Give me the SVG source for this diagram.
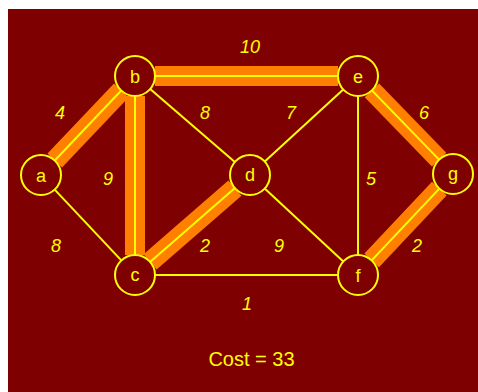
<svg xmlns="http://www.w3.org/2000/svg" width="478" height="392" viewBox="0 0 478 392">
<style>
.hl{stroke:#ff8000;stroke-width:20;fill:none;stroke-linecap:butt}
.ln{stroke:#ffff00;stroke-width:2;fill:none;stroke-linecap:butt}
.nd{fill:none;stroke:#ffff00;stroke-width:2}
.nl{font-family:"Liberation Sans",Arial,sans-serif;font-size:18px;fill:#ffff00;text-anchor:middle}
.wl{font-family:"Liberation Sans",Arial,sans-serif;font-size:18px;font-style:italic;fill:#ffff00;text-anchor:middle}
.cost{font-family:"Liberation Sans",Arial,sans-serif;font-size:20px;fill:#ffff00;text-anchor:middle}
</style>
<rect x="0" y="0" width="478" height="392" fill="#ffffff"/>
<rect x="8" y="9" width="470" height="383" fill="#7f0000"/>
<g id="connectors">
  <g id="mst-highlight">
    <line class="hl" x1="54.77" y1="160.50" x2="121.23" y2="90.50"/>
    <line class="hl" x1="155" y1="76" x2="338" y2="76"/>
    <line class="hl" x1="135" y1="96" x2="135" y2="255"/>
    <line class="hl" x1="150.09" y1="261.88" x2="234.91" y2="188.12"/>
    <line class="hl" x1="371.92" y1="90.36" x2="439.08" y2="159.64"/>
    <line class="hl" x1="371.70" y1="260.43" x2="439.30" y2="188.57"/>
  </g>
  <line id="e-ab" class="ln" x1="54.77" y1="160.50" x2="121.23" y2="90.50"/>
  <line id="e-be" class="ln" x1="155" y1="76" x2="338" y2="76"/>
  <line id="e-bc" class="ln" x1="135" y1="96" x2="135" y2="255"/>
  <line id="e-cd" class="ln" x1="150.09" y1="261.88" x2="234.91" y2="188.12"/>
  <line id="e-eg" class="ln" x1="371.92" y1="90.36" x2="439.08" y2="159.64"/>
  <line id="e-fg" class="ln" x1="371.70" y1="260.43" x2="439.30" y2="188.57"/>
  <line id="e-bd" class="ln" x1="150.16" y1="89.05" x2="234.84" y2="161.95"/>
  <line id="e-de" class="ln" x1="264.74" y1="161.49" x2="343.26" y2="89.51"/>
  <line id="e-ac" class="ln" x1="54.70" y1="189.57" x2="121.30" y2="260.43"/>
  <line id="e-cf" class="ln" x1="155" y1="275" x2="338" y2="275"/>
  <line id="e-df" class="ln" x1="264.68" y1="188.59" x2="343.32" y2="261.41"/>
  <line id="e-ef" class="ln" x1="358" y1="96" x2="358" y2="255"/>
  <text class="wl" x="250" y="53">10</text>
  <text class="wl" x="60" y="119">4</text>
  <text class="wl" x="205" y="119">8</text>
  <text class="wl" x="291" y="119">7</text>
  <text class="wl" x="424" y="119">6</text>
  <text class="wl" x="108" y="185">9</text>
  <text class="wl" x="371" y="185">5</text>
  <text class="wl" x="56" y="252">8</text>
  <text class="wl" x="205" y="252">2</text>
  <text class="wl" x="279" y="252">9</text>
  <text class="wl" x="417" y="252">2</text>
  <text class="wl" x="247" y="310">1</text>
</g>
<g id="node-a"><circle class="nd" cx="41" cy="175" r="20"/><text class="nl" x="41" y="182">a</text></g>
<g id="node-b"><circle class="nd" cx="135" cy="76" r="20"/><text class="nl" x="135" y="83">b</text></g>
<g id="node-c"><circle class="nd" cx="135" cy="275" r="20"/><text class="nl" x="135" y="281">c</text></g>
<g id="node-d"><circle class="nd" cx="250" cy="175" r="20"/><text class="nl" x="250" y="181">d</text></g>
<g id="node-e"><circle class="nd" cx="358" cy="76" r="20"/><text class="nl" x="358" y="83">e</text></g>
<g id="node-f"><circle class="nd" cx="358" cy="275" r="20"/><text class="nl" x="358" y="282">f</text></g>
<g id="node-g"><circle class="nd" cx="453" cy="174" r="20"/><text class="nl" x="453" y="180">g</text></g>
<text class="cost" x="251.5" y="366">Cost = 33</text>
</svg>
